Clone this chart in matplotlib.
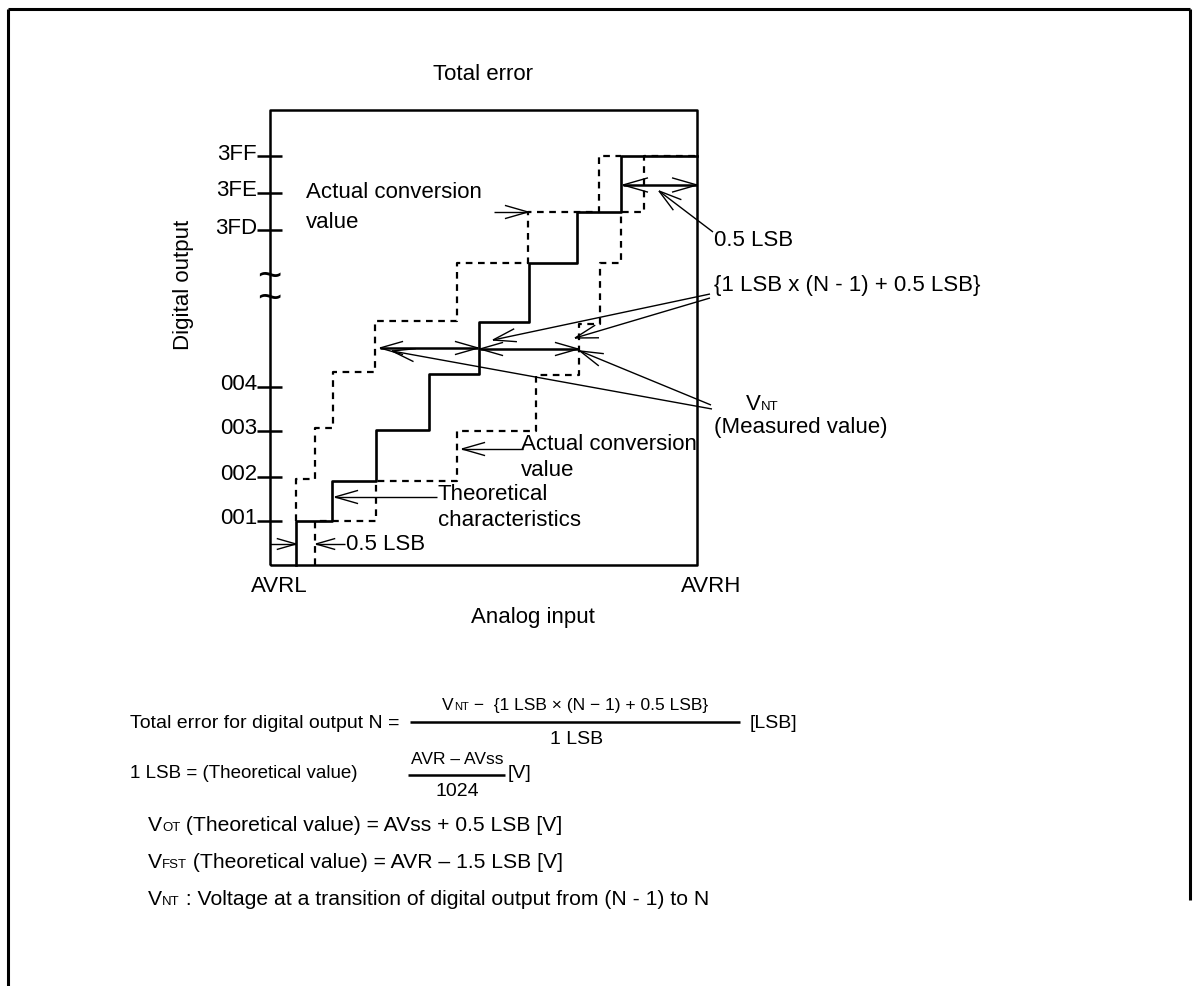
import numpy as np
import matplotlib.pyplot as plt

# staircases, drawn with drawstyle steps-post (x = analog input px, y = code level px)
ideal_x = [296, 296, 332, 376, 429, 479, 529, 577, 621, 697]
ideal_y = [565, 521, 481, 430, 374, 322, 263, 212, 156, 156]
early_x = [296, 296, 315, 333, 375, 457, 528, 599, 621]
early_y = [521, 479, 428, 372, 321, 263, 212, 156, 156]
late_x = [315, 315, 376, 457, 536, 579, 600, 621, 644, 697]
late_y = [565, 521, 481, 431, 375, 324, 263, 212, 156, 156]

code_labels = ["3FF", "3FE", "3FD", "004", "003", "002", "001"]
code_ticks = [156, 193, 230, 387, 431, 477, 521]

FONT = ["Liberation Sans", "DejaVu Sans"]
FS = 16
SUB = 9.5

fig = plt.figure(figsize=(12, 9.86), dpi=100)
ax = fig.add_axes([0, 0, 1, 1])
ax.set_xlim(0, 1200)
ax.set_ylim(986, 0)
ax.axis("off")
renderer = fig.canvas.get_renderer()


def txt(x, y, s, **kw):
    kw.setdefault("fontsize", FS)
    kw.setdefault("va", "center")
    return ax.text(x, y, s, family=FONT, color="k", **kw)


def chain(x, y, parts, ha="left"):
    # pieces of text with mixed sizes on one baseline
    ts, w = [], []
    for s, fs in parts:
        t = ax.text(0, y, s, fontsize=fs, va="baseline", ha="left", family=FONT)
        ts.append(t)
        w.append(t.get_window_extent(renderer).width)
    x0 = x - sum(w) / 2 if ha == "center" else x
    for t, wi in zip(ts, w):
        t.set_x(x0)
        x0 += wi
    return x0


def seg(xs, ys, lw=1.0, **kw):
    ax.plot(xs, ys, color="k", lw=lw, solid_capstyle="butt", **kw)


def head(x, y, ang, L=24, spread=16):
    for s in (-1, 1):
        a = np.radians(ang + s * spread)
        seg([x, x + L * np.cos(a)], [y, y + L * np.sin(a)], lw=1.0)


def arrow(x0, y0, x1, y1, lw=1.0, both=False, L=24):
    seg([x0, x1], [y0, y1], lw=lw)
    ang = np.degrees(np.arctan2(y0 - y1, x0 - x1))
    head(x1, y1, ang, L)
    if both:
        head(x0, y0, ang + 180, L)


# outer frame
seg([8, 8], [9, 986], lw=2.2)
seg([8, 1190], [9, 9], lw=2.2)
seg([1190, 1190], [9, 900], lw=2.2)

# plot box
seg([270, 270, 697, 697, 270], [565, 110, 110, 565, 565], lw=1.8)

# ticks and labels
for lab, yv in zip(code_labels, code_ticks):
    seg([257, 282], [yv, yv], lw=1.8)
    txt(257, yv - 2, lab, ha="right")

# axis break
txt(269, 289, "~\n~", fontsize=30, ha="center", linespacing=0.45)

# staircases
ax.plot(late_x, late_y, drawstyle="steps-post", color="k", lw=1.6, dashes=(3, 2.5))
ax.plot(early_x, early_y, drawstyle="steps-post", color="k", lw=1.6, dashes=(3, 2.5))
ax.plot(ideal_x, ideal_y, drawstyle="steps-post", color="k", lw=1.9)

# arrows
arrow(270, 544, 296, 544, L=20)
arrow(345, 544, 316, 544, L=20)
arrow(437, 497, 335, 497)
arrow(523, 449, 462, 449)
arrow(494, 212, 528, 212)
arrow(623, 185, 697, 185, lw=1.8, both=True, L=26)
arrow(713, 232, 659, 191)
arrow(380, 348, 478, 348, lw=1.8, both=True)
arrow(480, 349, 578, 349, lw=1.8, both=True)
arrow(710, 294, 493, 340)
arrow(710, 298, 575, 338)
arrow(712, 409, 392, 351)
arrow(711, 405, 580, 351)

# labels in the chart
txt(483, 75, "Total error", ha="center")
txt(183, 285, "Digital output", ha="center", rotation=90)
txt(279, 586, "AVRL", ha="center")
txt(711, 586, "AVRH", ha="center")
txt(533, 618, "Analog input", ha="center")
txt(306, 193, "Actual conversion")
txt(306, 222, "value")
txt(714, 241, "0.5 LSB")
txt(714, 286, "{1 LSB x (N - 1) + 0.5 LSB}")
chain(746, 410, [("V", FS), ("NT", SUB)])
txt(714, 427, "(Measured value)")
txt(521, 445, "Actual conversion")
txt(521, 471, "value")
txt(438, 495, "Theoretical")
txt(438, 520, "characteristics")
txt(346, 545, "0.5 LSB")

# formulas
txt(130, 723, "Total error for digital output N =", fontsize=14)
chain(575, 710, [("V", 12.5), ("NT", 8), (" \u2212  {1 LSB \u00d7 (N \u2212 1) + 0.5 LSB}", 12.5)],
      ha="center")
seg([410, 740], [722, 722], lw=1.8)
txt(577, 739, "1 LSB", ha="center", fontsize=14)
txt(750, 723, "[LSB]", fontsize=14)

txt(130, 773, "1 LSB = (Theoretical value)", fontsize=13.5)
txt(457, 759, "AVR \u2013 AVss", ha="center", fontsize=12.5)
seg([408, 505], [775, 775], lw=1.8)
txt(457, 791, "1024", ha="center", fontsize=14)
txt(508, 773, "[V]", fontsize=14)

chain(148, 831, [("V", 15.2), ("OT", SUB), (" (Theoretical value) = AVss + 0.5 LSB [V]", 15.2)])
chain(148, 868, [("V", 15.2), ("FST", SUB), (" (Theoretical value) = AVR \u2013 1.5 LSB [V]", 15.2)])
chain(148, 905, [("V", 15.2), ("NT", SUB), (" : Voltage at a transition of digital output from (N - 1) to N", 15.2)])

fig.savefig("out.png", dpi=100)
